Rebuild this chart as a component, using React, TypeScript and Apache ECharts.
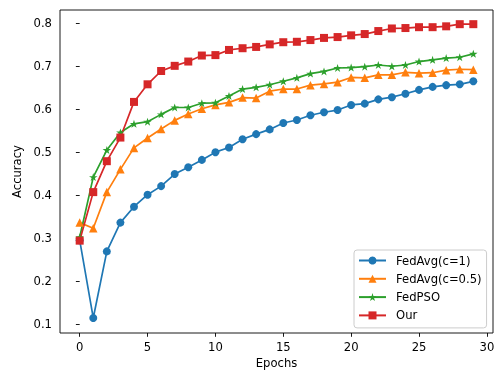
import React, { useEffect, useRef } from "react";
import * as echarts from "echarts";

const epochs = Array.from({ length: 30 }, (_, i) => i);
const fedAvg1 = [0.295, 0.114, 0.269, 0.336, 0.373, 0.401, 0.421, 0.449, 0.465, 0.482, 0.500, 0.511, 0.530, 0.542, 0.553, 0.568, 0.575, 0.586, 0.593, 0.598, 0.610, 0.613, 0.623, 0.628, 0.636, 0.645, 0.652, 0.656, 0.658, 0.665];
const fedAvg05 = [0.336, 0.323, 0.407, 0.460, 0.510, 0.533, 0.554, 0.574, 0.589, 0.601, 0.610, 0.616, 0.627, 0.626, 0.642, 0.647, 0.647, 0.656, 0.659, 0.663, 0.674, 0.673, 0.680, 0.680, 0.686, 0.684, 0.685, 0.691, 0.693, 0.692];
const fedPSO = [0.302, 0.442, 0.505, 0.546, 0.566, 0.571, 0.588, 0.604, 0.604, 0.614, 0.615, 0.631, 0.647, 0.651, 0.657, 0.665, 0.673, 0.683, 0.688, 0.696, 0.697, 0.699, 0.703, 0.700, 0.703, 0.711, 0.715, 0.719, 0.721, 0.729];
const ours = [0.294, 0.407, 0.479, 0.534, 0.617, 0.658, 0.689, 0.701, 0.711, 0.725, 0.726, 0.738, 0.742, 0.745, 0.751, 0.756, 0.757, 0.761, 0.766, 0.768, 0.772, 0.775, 0.782, 0.788, 0.789, 0.791, 0.791, 0.793, 0.798, 0.798];
const seriesNames = ["FedAvg(c=1)", "FedAvg(c=0.5)", "FedPSO", "Our"];
const xTicks = [0, 5, 10, 15, 20, 25, 30];
const yTicks = [0.1, 0.2, 0.3, 0.4, 0.5, 0.6, 0.7, 0.8];

const STAR =
  "path://M100,0 L122.45,69.1 L195.11,69.1 L136.33,111.8 L158.78,180.9 L100,138.2 L41.22,180.9 L63.67,111.8 L4.89,69.1 L77.55,69.1 Z";

const FONT = "DejaVu Sans";
const FS = 11.6;

export default function App() {
  const ref = useRef<HTMLDivElement>(null);
  useEffect(() => {
    if (!ref.current) return;
    const chart = echarts.init(ref.current, null, { renderer: "svg" });
    const mk = (
      name: string,
      vals: number[],
      color: string,
      symbol: string,
      size: number | number[]
    ) => ({
      name,
      type: "line",
      data: epochs.map((e, i) => [e, vals[i]]),
      symbol,
      symbolSize: size,
      showAllSymbol: true,
      lineStyle: { color, width: 1.7 },
      itemStyle: { color, borderColor: color, borderWidth: 0 },
      emphasis: { disabled: true },
    });
    chart.setOption({
      animation: false,
      textStyle: { fontFamily: FONT },
      grid: {
        left: 60,
        right: 1,
        top: 10,
        bottom: 37,
        outerBoundsMode: "none",
        containLabel: false,
        show: true,
        borderColor: "#000",
        borderWidth: 0.9,
        backgroundColor: "transparent",
      },
      xAxis: {
        type: "value",
        min: -1.45,
        max: 30.45,
        name: "Epochs",
        nameLocation: "middle",
        nameGap: 24,
        nameTextStyle: { fontSize: FS, color: "#000", fontFamily: FONT },
        axisLine: { show: false },
        splitLine: { show: false },
        axisTick: {
          show: true,
          inside: false,
          length: 3.8,
          customValues: xTicks,
          lineStyle: { color: "#000", width: 0.9 },
        },
        axisLabel: {
          customValues: xTicks,
          margin: 7.5,
          fontSize: FS,
          color: "#000",
          fontFamily: FONT,
        },
      },
      yAxis: {
        type: "value",
        min: 0.079,
        max: 0.831,
        name: "Accuracy",
        nameLocation: "middle",
        nameGap: 29,
        nameTextStyle: { fontSize: FS, color: "#000", fontFamily: FONT },
        axisLine: { show: false },
        splitLine: { show: false },
        axisTick: {
          show: true,
          inside: false,
          length: 3.8,
          customValues: yTicks,
          lineStyle: { color: "#000", width: 0.9 },
        },
        axisLabel: {
          customValues: yTicks,
          margin: 8,
          fontSize: FS,
          color: "#000",
          fontFamily: FONT,
          formatter: (v: number) => v.toFixed(1),
        },
      },
      legend: {
        orient: "vertical",
        left: 354,
        top: 250,
        padding: [4, 5, 6, 4],
        itemWidth: 27,
        itemHeight: 10,
        itemGap: 5.3,
        backgroundColor: "rgba(255,255,255,0.8)",
        borderColor: "#cccccc",
        borderWidth: 1,
        borderRadius: 3,
        data: seriesNames,
        textStyle: {
          fontSize: FS,
          lineHeight: 13,
          color: "#000",
          fontFamily: FONT,
          padding: [0, 0, 0, 5],
        },
      },
      series: [
        mk(seriesNames[0], fedAvg1, "#1f77b4", "circle", 8),
        mk(seriesNames[1], fedAvg05, "#ff7f0e", "triangle", 8.5),
        mk(seriesNames[2], fedPSO, "#2ca02c", STAR, [8.5, 8]),
        mk(seriesNames[3], ours, "#d62728", "rect", 8),
      ],
    });
    return () => chart.dispose();
  }, []);
  return (
    <div
      ref={ref}
      style={{ position: "fixed", left: 0, top: 0, width: 494, height: 370 }}
    />
  );
}
